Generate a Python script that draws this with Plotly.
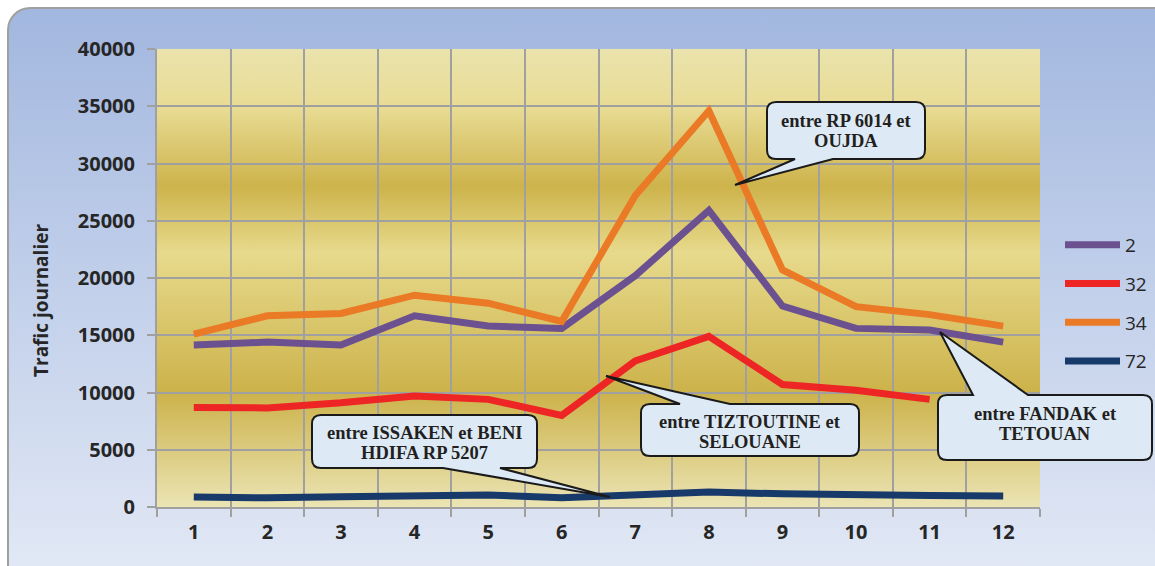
import base64
import plotly.graph_objects as go

# ---------------- data ----------------
months = [str(i) for i in range(1, 13)]
route_2 = [14150, 14400, 14150, 16700, 15800, 15600, 20200, 25900, 17550, 15600, 15450, 14400]
route_32 = [8700, 8650, 9100, 9700, 9400, 8000, 12750, 14900, 10700, 10200, 9400, None]
route_34 = [15100, 16700, 16900, 18500, 17800, 16200, 27200, 34600, 20700, 17500, 16800, 15800]
route_72 = [870, 800, 900, 1000, 1050, 800, 1100, 1300, 1150, 1000, 1000, 950]
series_names = ["2", "32", "34", "72"]
series_values = [route_2, route_32, route_34, route_72]
series_colors = ["#6B5190", "#EE2525", "#EA7A26", "#173A6A"]
y_title = "Trafic journalier"
callout_texts = [
    "entre RP 6014 et<br>OUJDA",
    "entre TIZTOUTINE et<br>SELOUANE",
    "entre FANDAK et<br>TETOUAN",
    "entre ISSAKEN et BENI<br>HDIFA RP 5207",
]

# ---------------- layout geometry ----------------
W, H = 1155, 566
L, R, T, B = 157, 115, 49, 59
PW, PH = W - L - R, H - T - B


def px(x):
    return (x - L) / PW


def py(y):
    return (H - B - y) / PH


fig = go.Figure()
for name, vals, col in zip(series_names, series_values, series_colors):
    fig.add_trace(go.Scatter(
        x=months, y=vals, name=name, mode="lines",
        line=dict(color=col, width=7), legendgroup=name,
        connectgaps=False,
    ))

# background (outer rounded panel + golden plot gradient)
svg = f'''<svg xmlns="http://www.w3.org/2000/svg" width="{W}" height="{H}" viewBox="0 0 {W} {H}">
<defs>
<linearGradient id="o" x1="0" y1="0" x2="0" y2="1">
<stop offset="0" stop-color="#A2B7DF"/><stop offset="1" stop-color="#E4EAF6"/></linearGradient>
<linearGradient id="p" x1="0" y1="0" x2="0" y2="1">
<stop offset="0" stop-color="#EAE3AC"/>
<stop offset="0.13" stop-color="#E8DB93"/>
<stop offset="0.30" stop-color="#CDB34B"/>
<stop offset="0.445" stop-color="#E7DA8C"/>
<stop offset="0.75" stop-color="#CCB24A"/>
<stop offset="1" stop-color="#EBE4B4"/>
</linearGradient></defs>
<rect x="8" y="8" width="1175" height="585" rx="22" ry="22" fill="url(#o)" stroke="#A0A0A0" stroke-width="2"/>
<rect x="{L}" y="{T}" width="{PW}" height="{PH}" fill="url(#p)"/>
</svg>'''
src = "data:image/svg+xml;base64," + base64.b64encode(svg.encode()).decode()
fig.add_layout_image(dict(
    source=src, xref="paper", yref="paper",
    x=px(0), y=py(0), sizex=W / PW, sizey=H / PH,
    xanchor="left", yanchor="top", sizing="stretch", layer="below",
))


# callouts: (box x0,y0,x1,y1), wedge base (xa,xb), tip (x,y), edge, text centre
callouts = [
    ((767, 102, 925, 159), (795, 833), (735, 185), "bottom", (846, 131)),
    ((641, 404, 859, 456), (680, 730), (606, 376), "top", (750, 432)),
    ((938, 395, 1152, 460), (973, 1028), (940, 332), "top", (1045, 424)),
    ((312, 415, 537, 468), (443, 500), (610, 497), "bottom", (424, 443)),
]
LINE_GAP = 20


def P(x, y):
    return f"{px(x):.5f},{py(y):.5f}"


for (box, wedge, tip, edge, centre), text in zip(callouts, callout_texts):
    x0, y0, x1, y1 = box
    r = 9
    d = f"M{P(x0 + r, y0)}"
    if edge == "top":
        d += f" L{P(wedge[0], y0)} L{P(*tip)} L{P(wedge[1], y0)}"
    d += f" L{P(x1 - r, y0)} Q{P(x1, y0)} {P(x1, y0 + r)}"
    d += f" L{P(x1, y1 - r)} Q{P(x1, y1)} {P(x1 - r, y1)}"
    if edge == "bottom":
        d += f" L{P(wedge[1], y1)} L{P(*tip)} L{P(wedge[0], y1)}"
    d += f" L{P(x0 + r, y1)} Q{P(x0, y1)} {P(x0, y1 - r)}"
    d += f" L{P(x0, y0 + r)} Q{P(x0, y0)} {P(x0 + r, y0)} Z"
    fig.add_shape(type="path", path=d, xref="paper", yref="paper",
                  fillcolor="#DDEAF6", line=dict(color="#1A1A1A", width=2), layer="above")
    lines = text.split("<br>")
    n = len(lines)
    for i, ln in enumerate(lines):
        cy = centre[1] + (i - (n - 1) / 2) * LINE_GAP
        fig.add_annotation(text=ln, x=px(centre[0]), y=py(cy), xref="paper", yref="paper",
                           xanchor="center", yanchor="middle",
                           showarrow=False, align="center",
                           font=dict(family="Liberation Serif", size=18.5, color="#231F20", weight="bold"))

# y-axis title as rotated text
fig.add_annotation(text=y_title, x=px(41), y=py(301), xref="paper", yref="paper",
                   xanchor="center", yanchor="middle",
                   showarrow=False, textangle=-90,
                   font=dict(family="Open Sans", size=19, color="#262626", weight="bold"))

grid = "#A0A0A0"
tick_font = dict(family="Open Sans", size=20, color="#262626", weight="bold")
fig.update_layout(
    width=W, height=H,
    margin=dict(l=L, r=R, t=T, b=B, pad=0, autoexpand=False),
    paper_bgcolor="white", plot_bgcolor="rgba(0,0,0,0)",
    showlegend=True,
    legend=dict(xref="container", yref="container", x=1060 / W, y=(H - 226) / H,
                xanchor="left", yanchor="top",
                bgcolor="rgba(0,0,0,0)", tracegroupgap=11, traceorder="grouped",
                itemwidth=55,
                font=dict(family="Open Sans", size=19, color="#262626")),
    xaxis=dict(type="category", tickson="boundaries", showgrid=True, gridcolor=grid, gridwidth=2,
               showline=True, linecolor=grid, linewidth=2, ticks="outside", ticklen=8,
               tickcolor=grid, tickwidth=2, ticklabelstandoff=6,
               tickfont=tick_font, range=[-0.5, 11.5]),
    yaxis=dict(range=[0, 40000], dtick=5000, tickformat="d", showgrid=True, gridcolor=grid, gridwidth=2,
               showline=True, linecolor=grid, linewidth=2, zeroline=False,
               ticks="outside", ticklen=8, tickcolor=grid, tickwidth=2, ticklabelstandoff=8,
               tickfont=tick_font),
)

fig.write_html("out.html", config={"displayModeBar": False},
               post_script="document.body.style.margin='0';document.body.style.overflow='hidden';")
